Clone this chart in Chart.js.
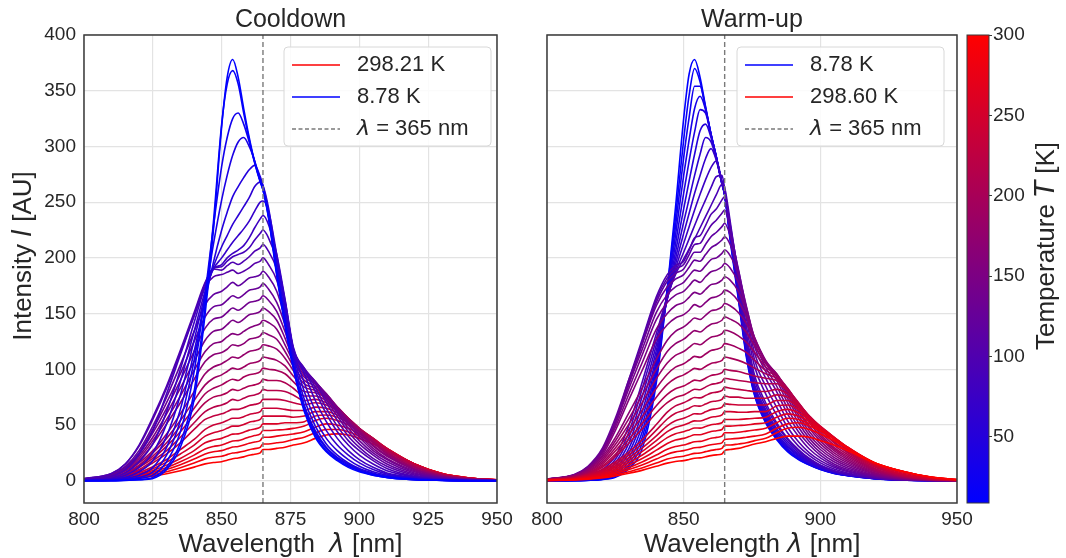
<!DOCTYPE html>
<html>
<head>
<meta charset="utf-8">
<title>Cooldown / Warm-up spectra</title>
<script src="https://cdn.jsdelivr.net/npm/chart.js@4.4.1/dist/chart.umd.min.js"></script>
<style>
  html, body { margin: 0; padding: 0; background: #fff; }
  #stage { position: relative; width: 1066px; height: 558px; overflow: hidden; }
  #stage canvas { position: absolute; top: 0; }
</style>
</head>
<body>
<div id="stage">
  <canvas id="cooldown" width="525" height="558" style="left:0"></canvas>
  <canvas id="warmup" width="455" height="558" style="left:525px"></canvas>
  <canvas id="colorbar" width="106" height="558" style="left:960px"></canvas>
</div>
<script>
// shared wavelength grid (nm) for every spectrum
const wavelengths = [800, 810, 815, 820, 825, 830, 835, 840, 844, 847, 850, 852, 854, 856, 858, 860, 862, 864, 865, 867, 870, 873, 876, 880, 884, 888, 892, 896, 900, 905, 910, 920, 930, 940, 950];
const laserLine = 865;
const yMin = -20, yMax = 400;
const yTicks = [0, 50, 100, 150, 200, 250, 300, 350, 400];
const xTicksCooldown = [800, 825, 850, 875, 900, 925, 950];
const xTicksWarmup = [800, 850, 900, 950];
const tempMin = 8.78, tempMax = 300;
const tempTicks = [50, 100, 150, 200, 250, 300];

// cooldown: coldest first
const cooldownTemps = [8.78, 18, 28, 38, 48, 58, 68, 78, 88, 98, 108, 118, 128, 138, 148, 158, 168, 178, 188, 198, 208, 218, 228, 238, 248, 258, 268, 278, 288, 298.21];
const cd00 = [0, 0, 0.3, 0.8, 2, 10, 30, 73, 150, 225, 318, 362, 378, 362, 334, 308, 286, 269, 261, 236, 184, 139, 101, 62, 39, 26, 18, 12, 8, 5, 3, 1, 0.3, 0, 0];
const cd01 = [0, 0, 0.4, 1, 3, 12, 34, 80, 158, 232, 320, 356, 368, 356, 330, 306, 285, 268, 261, 237, 186, 141, 102, 64, 41, 27, 19, 13, 9, 5, 3, 1, 0.3, 0, 0];
const cd02 = [0, 0.2, 0.6, 2, 5, 17, 44, 98, 168, 228, 282, 308, 325, 330, 320, 304, 286, 269, 262, 238, 188, 143, 104, 66, 43, 29, 20, 14, 9, 6, 3, 1, 0.4, 0, 0];
const cd03 = [0, 0.3, 1, 3, 8, 23, 54, 108, 166, 212, 252, 274, 292, 304, 308, 300, 287, 270, 263, 239, 190, 145, 106, 68, 45, 30, 21, 15, 10, 6, 4, 1.5, 0.5, 0, 0];
const cd04 = [0.2, 0.5, 2, 5, 12, 30, 64, 116, 162, 196, 225, 241, 255, 264, 272, 279, 283, 273, 265, 242, 193, 149, 110, 73, 49, 33, 23, 16, 11, 7, 4, 1.5, 0.5, 0, 0];
const cd05 = [0.3, 1, 3, 8, 18, 40, 77, 126, 167, 192, 210, 220, 230, 238, 246, 254, 264, 268, 265, 245, 198, 155, 114, 80, 55, 38, 27, 19, 13, 8, 5, 2, 0.6, 0.2, 0];
const cd06 = [0.5, 1.5, 5, 12, 25, 51, 89, 134, 170, 190, 200, 207, 214, 220, 226, 233, 242, 250, 251, 242, 203, 160, 118, 88, 63, 45, 32, 23, 16, 10, 6, 2.5, 0.8, 0.2, 0];
const cd07 = [0.8, 2.5, 7, 17, 33, 62, 100, 142, 174, 190, 194, 200, 204, 207, 211, 218, 227, 235, 238, 230, 203, 163, 120, 96, 72, 53, 38, 27, 19, 12, 7, 3, 1, 0.3, 0];
const cd08 = [1, 4, 10, 24, 45, 78, 113, 148, 177, 191, 192, 197, 201, 203, 205, 209, 216, 222, 225, 218, 198, 162, 118, 100, 80, 60, 44, 32, 23, 15, 9, 3.5, 1.2, 0.4, 0];
const cd09 = [1.9, 6.6, 15, 32, 57, 85, 117, 151, 178, 190, 189, 193, 196, 194, 197, 201, 206, 209, 212, 206, 190, 160, 119, 101, 84, 65, 49, 36, 27, 18, 11, 4, 1.5, 0.5, 0.1];
const cd10 = [1.8, 6.5, 15, 31, 55, 83, 115, 148, 174, 183, 185, 187, 189, 186, 188, 191, 195, 197, 200, 194, 180, 152, 117, 101, 88, 70, 54, 40, 30, 20, 13, 5, 1.8, 0.6, 0.1];
const cd11 = [1.7, 5.6, 12.8, 27, 49, 75, 104, 134, 158, 167, 170, 174, 178, 175, 178, 182, 183, 185, 188, 183, 170, 146, 116, 100, 89, 73, 58, 44, 33, 23, 15, 6, 2.2, 0.7, 0.2];
const cd12 = [1.6, 5.2, 11.9, 25, 46, 70, 96, 125, 147, 156, 158, 162, 166, 164, 167, 171, 172, 174, 177, 172, 160, 140, 114, 99, 89, 76, 61, 47, 36, 25, 17, 7, 2.5, 0.8, 0.2];
const cd13 = [1.5, 4.9, 11, 24, 43, 65, 90, 116, 137, 145, 147, 151, 155, 153, 156, 160, 161, 163, 166, 162, 152, 134, 112, 97, 89, 77, 63, 50, 39, 27, 19, 8, 3, 1, 0.3];
const cd14 = [1.4, 4.5, 10, 22, 39, 60, 83, 107, 126, 134, 136, 140, 144, 142, 145, 149, 150, 152, 155, 152, 144, 128, 110, 95, 88, 78, 65, 52, 41, 29, 20, 9, 3, 1, 0.3];
const cd15 = [1.3, 4.1, 9.4, 20, 36, 55, 76, 99, 116, 123, 125, 129, 132, 131, 134, 137, 139, 141, 144, 142, 136, 122, 107, 93, 87, 78, 66, 53, 43, 31, 22, 10, 3.5, 1.1, 0.3];
const cd16 = [1.2, 3.8, 8.6, 18, 33, 51, 70, 91, 107, 113, 115, 118, 122, 121, 123, 127, 128, 130, 133, 131, 127, 116, 103, 90, 85, 77, 66, 54, 44, 32, 23, 10, 4, 1.2, 0.3];
const cd17 = [1, 3.2, 7.4, 16, 27, 42, 60, 80, 96, 102, 105, 108, 111, 110, 113, 116, 117, 119, 122, 121, 118, 110, 99, 87, 83, 76, 66, 55, 45, 34, 24, 11, 4.2, 1.4, 0.4];
const cd18 = [1, 2.9, 6.7, 14, 25, 38, 54, 72, 86, 92, 95, 98, 101, 100, 102, 105, 106, 108, 111, 110, 108, 103, 94, 84, 81, 75, 66, 56, 46, 35, 25, 12, 4.5, 1.5, 0.4];
const cd19 = [0.9, 2.6, 6, 13, 22, 34, 49, 65, 78, 83, 86, 89, 91, 90, 93, 95, 96, 98, 101, 100, 99, 96, 89, 80, 79, 74, 66, 56, 47, 36, 26, 12, 4.8, 1.7, 0.5];
const cd20 = [0.8, 2.3, 5.4, 12, 20, 31, 44, 59, 70, 75, 77, 79, 82, 81, 83, 85, 86, 88, 91, 90, 90, 88, 83, 76, 76, 72, 65, 56, 47, 37, 27, 13, 5, 1.8, 0.5];
const cd21 = [0.7, 2, 4.8, 10, 18, 27, 39, 52, 62, 66, 68, 70, 73, 72, 74, 76, 77, 79, 82, 81, 81, 80, 77, 72, 73, 70, 64, 56, 47, 38, 28, 14, 5.5, 2, 0.6];
const cd22 = [0.6, 1.8, 4.2, 9, 16, 24, 34, 46, 55, 58, 60, 62, 64, 64, 65.5, 67.5, 68.5, 70, 73, 73, 73, 72, 70, 68, 70, 68, 63, 55, 47, 38, 28, 14, 6, 2, 0.6];
const cd23 = [0.8, 2.1, 4.2, 7.3, 12.5, 19, 28, 37, 46, 50, 52, 54, 56, 56, 57.5, 59.5, 60.5, 62, 65, 65, 65, 64, 63, 63, 66, 65, 61, 54, 46, 38, 29, 15, 6, 2.1, 0.7];
const cd24 = [0.7, 1.8, 3.6, 6.3, 10.8, 16.7, 24, 32, 40, 43, 45, 47, 49, 49, 50.5, 52.5, 53.5, 55, 58, 58, 58, 58, 57, 58, 62, 62, 59, 53, 46, 38, 29, 15, 6, 2.2, 0.7];
const cd25 = [0.6, 1.5, 3, 5.3, 9.1, 14, 20, 27, 34, 36.5, 38, 40, 41.8, 42, 43.5, 45.4, 46.5, 48, 51, 51, 51, 52, 52, 53, 58, 59, 57, 52, 45, 37, 29, 15, 6.3, 2.3, 0.7];
const cd26 = [0.5, 1.3, 2.6, 4.5, 7.7, 11.8, 17, 23, 28.5, 30.7, 32, 33.8, 35.6, 36, 37.5, 39.3, 40.5, 42, 45, 45, 45.5, 46, 47, 49, 54, 56, 54, 50, 44, 37, 29, 15, 6.5, 2.4, 0.7];
const cd27 = [0.4, 1.1, 2.2, 3.8, 6.5, 10, 14.3, 19.4, 24, 26, 27, 28.6, 30.2, 30.7, 32, 33.6, 34.7, 36, 39, 39, 40, 41, 42, 44, 48, 51, 50, 47, 42, 36, 28, 15, 6.5, 2.5, 0.8];
const cd28 = [0.3, 0.9, 1.8, 3.1, 5.3, 8.1, 11.7, 15.8, 19.6, 21.1, 22, 23.4, 24.8, 25.4, 26.4, 27.8, 28.8, 30, 33, 33, 34, 35, 37, 39, 43, 46, 46, 44, 40, 35, 28, 15, 6.5, 2.5, 0.8];
const cd29 = [0.3, 0.7, 1.4, 2.4, 4.1, 6.3, 9, 12.2, 15.1, 16.3, 17, 18.4, 19.7, 20.4, 21.4, 22.8, 23.8, 25, 28, 28, 29, 30, 32, 34, 38, 41, 42, 41, 38, 33, 27, 15, 6.5, 2.5, 0.8];
const cooldownCurves = [cd00, cd01, cd02, cd03, cd04, cd05, cd06, cd07, cd08, cd09, cd10, cd11, cd12, cd13, cd14,
  cd15, cd16, cd17, cd18, cd19, cd20, cd21, cd22, cd23, cd24, cd25, cd26, cd27, cd28, cd29];

// warm-up: coldest first
const warmupTemps = [8.78, 17.1, 25.3, 33.6, 41.9, 50.2, 58.5, 66.7, 75.0, 83.3, 91.6, 99.9, 108.1, 116.4, 124.7, 133.0, 141.3, 149.5, 157.8, 166.1, 174.4, 182.7, 190.9, 199.2, 207.5, 215.8, 224.1, 232.3, 240.6, 248.9, 257.2, 265.5, 273.7, 282.0, 290.3, 298.6];
const wu00 = [0, 0, 0.3, 1, 3, 11, 30, 88, 172, 245, 325, 365, 378, 362, 336, 311, 290, 266, 256, 216, 163, 110, 76, 52, 37, 26, 19, 14, 10, 6.5, 4.5, 1.8, 0.6, 0.2, 0];
const wu01 = [0, 0, 0.4, 1.2, 4, 13, 35, 92, 172, 236, 306, 346, 370, 358, 335, 311, 290, 267, 257, 218, 165, 112, 77, 53, 38, 27, 19.5, 14.3, 10.3, 6.7, 4.6, 1.8, 0.6, 0.2, 0];
const wu02 = [0, 0, 0.5, 1.5, 5, 15, 40, 96, 172, 228, 290, 326, 354, 354, 334, 311, 290, 267, 257, 219, 166, 113, 78, 54, 38.5, 27.5, 20, 14.6, 10.5, 6.8, 4.7, 1.9, 0.6, 0.2, 0];
const wu03 = [0, 0.3, 0.7, 2, 6, 18, 45, 100, 170, 220, 274, 306, 334, 345, 333, 311, 290, 267, 257, 220, 167, 114, 79, 55, 39, 28, 20.5, 15, 10.8, 7, 4.8, 1.9, 0.6, 0.2, 0];
const wu04 = [0, 0.4, 1, 2.6, 7.5, 21, 51, 104, 168, 212, 258, 287, 313, 333, 330, 310, 290, 267, 257, 221, 168, 115, 80, 56, 40, 28.5, 21, 15.3, 11, 7.2, 4.9, 2, 0.7, 0.2, 0];
const wu05 = [0.2, 0.5, 1.4, 3.3, 9, 25, 57, 108, 166, 205, 244, 269, 293, 314, 320, 308, 289, 267, 257, 222, 169, 116, 81, 58, 41, 30, 22, 16, 11.5, 7.5, 5, 2, 0.7, 0.2, 0];
const wu06 = [0.3, 0.7, 1.8, 4.2, 11, 29, 63, 112, 164, 199, 232, 253, 274, 293, 308, 304, 288, 267, 257, 223, 170, 118, 82, 60, 43, 31, 23, 16.8, 12, 7.8, 5.2, 2.1, 0.7, 0.2, 0];
const wu07 = [0.4, 0.9, 2.3, 5.3, 13.5, 34, 70, 117, 163, 194, 222, 240, 258, 274, 289, 298, 287, 267, 257, 224, 172, 120, 84, 62, 45, 33, 24, 17.5, 12.5, 8.2, 5.4, 2.2, 0.7, 0.2, 0];
const wu08 = [0.5, 1.2, 2.9, 6.6, 16, 39, 77, 122, 163, 190, 213, 228, 243, 257, 270, 281, 287, 268, 258, 226, 175, 123, 86, 64, 47, 35, 25.5, 18.5, 13, 8.6, 5.7, 2.3, 0.8, 0.2, 0];
const wu09 = [0.6, 1.5, 3.6, 8, 19, 44, 84, 127, 164, 187, 205, 217, 229, 241, 252, 263, 273, 274, 262, 229, 178, 127, 90, 67, 50, 37, 27, 19.5, 13.8, 9, 6, 2.4, 0.8, 0.2, 0];
const wu10 = [0.7, 1.8, 4.3, 9.6, 22, 50, 90, 132, 165, 185, 199, 208, 217, 227, 237, 247, 257, 266, 263, 233, 183, 132, 94, 70, 52, 38, 28, 20, 14, 9, 6, 2.5, 0.8, 0.3, 0];
const wu11 = [1.2, 4.9, 11.8, 25.6, 53, 91, 128, 165, 185, 193, 197, 207, 218, 220, 229, 239, 244, 252, 255, 230, 185, 138, 102, 78, 59, 43, 31, 22.5, 16, 10.5, 7, 2.8, 0.9, 0.3, 0];
const wu12 = [1.2, 4.9, 11.6, 25, 52, 89, 126, 163, 182, 190, 194, 203, 212, 213, 221, 229, 234, 240, 243, 226, 188, 145, 108, 85, 66, 48, 35, 25, 18, 12, 8, 3, 1, 0.3, 0];
const wu13 = [1.1, 4.8, 11.4, 24.7, 51, 87, 124, 160, 179, 186, 190, 198, 205, 205, 212, 219, 223, 228, 231, 220, 190, 150, 114, 92, 73, 54, 40, 28.5, 20.5, 13.5, 9, 3.5, 1.2, 0.4, 0.1];
const wu14 = [1.5, 5.6, 13, 28, 56, 91, 124, 157, 174, 181, 185, 191.5, 198, 197, 203, 209, 212, 216, 219, 212, 189, 154, 120, 98, 80, 60, 44, 32, 23, 15, 10, 4, 1.3, 0.4, 0.1];
const wu15 = [1.4, 5.3, 12.5, 26.7, 53, 87, 119, 151, 167, 174, 178, 184, 189, 188, 193, 198.5, 200, 204, 207, 202, 185, 156, 124, 102, 85, 65, 48, 35, 25.5, 17, 11.5, 4.5, 1.5, 0.5, 0.1];
const wu16 = [1.4, 5.1, 11.9, 25.5, 51, 83, 114, 144.5, 160, 166.6, 170, 175, 180, 178, 183, 187.5, 189, 192, 195, 191, 178, 155, 127, 106, 90, 70, 52, 38, 28, 19, 13, 5, 1.7, 0.5, 0.1];
const wu17 = [1.3, 4.8, 11.2, 24, 48, 78, 107, 136, 150, 157, 160, 164.6, 169, 167.4, 171.6, 176, 177, 180, 183, 180, 170, 152, 128, 107, 93, 74, 56, 41, 30.5, 21, 14.5, 5.8, 2, 0.6, 0.2];
const wu18 = [1.2, 4.5, 10.4, 22, 45, 73, 100, 127, 140, 146, 149, 153, 158, 156, 160, 164, 165, 168, 171, 169, 161, 147, 128, 108, 95, 77, 59, 44, 33, 23, 16, 6.5, 2.2, 0.7, 0.2];
const wu19 = [1.4, 4.8, 10.4, 20.7, 38.6, 61, 84, 109, 126, 134, 138, 142, 146, 144.7, 148.4, 152.4, 153.5, 156, 159, 157, 151, 141, 126, 107, 96, 79, 62, 47, 35.5, 25, 17.5, 7.2, 2.5, 0.8, 0.2];
const wu20 = [1.3, 4.4, 9.5, 19, 35.6, 56, 77.5, 100, 116, 123, 127, 131, 134.7, 133.4, 137, 140.5, 141.6, 144, 147, 145, 141, 133, 121, 105, 96, 81, 64, 49, 38, 27, 19, 8, 2.8, 0.9, 0.2];
const wu21 = [1.2, 4.1, 8.7, 17.4, 32.5, 51, 70.8, 91.6, 105.6, 112.5, 116, 119.6, 123.2, 122, 125.3, 128.7, 129.8, 132, 135, 134, 130, 124, 115, 102, 95, 82, 66, 52, 40, 28.5, 20.5, 8.8, 3.2, 1, 0.3];
const wu22 = [1.05, 3.7, 7.9, 15.8, 29.4, 46.2, 64, 83, 95.5, 102, 105, 108.3, 111.6, 110.7, 113.7, 116.8, 117.9, 120, 123, 122, 119, 115, 108, 99, 94, 83, 68, 54, 42, 30, 22, 9.5, 3.5, 1.1, 0.3];
const wu23 = [0.95, 3.3, 7.1, 14.3, 26.6, 41.8, 58, 75, 86.5, 92, 95, 97.9, 100.8, 99.9, 102.5, 105.3, 106.2, 108, 111, 110, 108, 105, 101, 96, 92, 83, 69, 56, 44, 32, 23.5, 10.2, 3.8, 1.2, 0.3];
const wu24 = [0.85, 3, 6.4, 12.8, 23.8, 37.4, 51.9, 67.2, 77.4, 82.5, 85, 87.7, 90.3, 89.6, 92, 94.5, 95.3, 97, 100, 99, 98, 96, 94, 92, 90, 82, 70, 57, 46, 34, 25, 11, 4, 1.3, 0.3];
const wu25 = [0.77, 2.7, 5.8, 11.6, 21.6, 33.9, 47, 60.8, 70, 74.7, 77, 79.6, 82.1, 81.6, 84, 86.4, 87.3, 89, 92, 91, 90, 89, 88, 87, 87, 81, 70, 57.5, 47, 35, 26, 12, 4.5, 1.5, 0.4];
const wu26 = [0.84, 2.8, 5.6, 9.8, 16.8, 25.9, 37.1, 50.4, 61.6, 67.2, 70, 72.4, 74.7, 74.3, 76.4, 78.6, 79.5, 81, 84, 83, 82, 81, 80, 80, 82, 78, 69, 58, 48, 37, 27, 13, 5, 1.6, 0.4];
const wu27 = [0.76, 2.5, 5, 8.8, 15.1, 23.3, 33.4, 45.4, 55.4, 60.5, 63, 65.1, 67.3, 66.9, 68.8, 70.8, 71.6, 73, 76, 75, 75, 74, 74, 74, 77, 75, 68, 58, 48.5, 38, 28, 13.5, 5.5, 1.8, 0.5];
const wu28 = [0.67, 2.2, 4.5, 7.8, 13.4, 20.7, 29.7, 40.3, 49.3, 53.8, 56, 58.1, 60.1, 59.9, 61.8, 63.8, 64.6, 66, 69, 68.5, 68, 68, 68, 68, 72, 72, 66, 57, 49, 39, 29, 14, 6, 2, 0.5];
const wu29 = [0.6, 2, 4, 7, 12, 18.5, 26.5, 36, 44, 48, 50, 51.9, 53.7, 53.6, 55.2, 57, 57.7, 59, 62, 62, 61.5, 61.5, 62, 62, 67, 68, 64, 56, 48.5, 39, 29.5, 14.5, 7, 2.5, 0.6];
const wu30 = [0.53, 1.8, 3.5, 6.2, 10.6, 16.3, 23.3, 31.7, 38.7, 42.2, 44, 45.6, 47.3, 47.2, 48.6, 50.2, 50.9, 52, 55, 55, 55, 55.5, 56, 57, 62, 64, 61, 55, 48, 39, 30, 15, 8, 3, 0.7];
const wu31 = [0.46, 1.5, 3, 5.3, 9.1, 14.1, 20.1, 27.4, 33.4, 36.5, 38, 39.6, 41.2, 41.2, 42.6, 44.2, 44.9, 46, 49, 49, 49.5, 50, 51, 52, 57, 60, 58, 53, 47, 38.5, 30, 15.5, 8.2, 3.2, 0.8];
const wu32 = [0.38, 1.3, 2.6, 4.5, 7.7, 11.8, 17, 23, 28.2, 30.7, 32, 33.5, 35, 35.3, 36.6, 38.1, 38.9, 40, 43, 43, 43.5, 44.5, 45.5, 47, 52, 56, 55, 51, 46, 38, 30, 16, 8.5, 3.3, 0.9];
const wu33 = [0.32, 1.1, 2.2, 3.8, 6.5, 10, 14.3, 19.4, 23.8, 25.9, 27, 28.3, 29.6, 29.9, 31.1, 32.3, 33, 34, 37, 37.5, 38, 39, 40, 42, 47, 51, 52, 49, 44.5, 37.5, 29.5, 16, 8.5, 3.4, 1];
const wu34 = [0.26, 0.9, 1.8, 3.1, 5.3, 8.1, 11.7, 15.8, 19.4, 21.1, 22, 23.3, 24.5, 24.9, 26.1, 27.2, 28, 29, 32, 32, 33, 34, 36, 38, 43, 47, 48, 46, 42, 36, 29, 16, 8.5, 3.5, 1];
const wu35 = [0.22, 0.7, 1.4, 2.5, 4.3, 6.7, 9.5, 13, 15.8, 17.3, 18, 19.1, 20.2, 20.5, 21.5, 22.5, 23.2, 24, 27, 28, 29, 31, 33, 35, 38, 40, 40, 39, 36, 32, 27, 16, 8.5, 3.5, 1];
const warmupCurves = [wu00, wu01, wu02, wu03, wu04, wu05, wu06, wu07, wu08, wu09, wu10, wu11, wu12, wu13, wu14, wu15, wu16, wu17,
  wu18, wu19, wu20, wu21, wu22, wu23, wu24, wu25, wu26, wu27, wu28, wu29, wu30, wu31, wu32, wu33, wu34, wu35];

const FONT = '"Liberation Sans", Arial, sans-serif';
const MATH = '"DejaVu Sans", sans-serif';
const ink = '#262626';
const gridColor = '#e3e3e3';
const frameColor = '#3a3a3a';
const laserColor = '#7a7a7a';
const tickFont = { family: FONT, size: 19 };

function tempColor(T) {
  const f = Math.min(1, Math.max(0, (T - tempMin) / (tempMax - tempMin)));
  return `rgb(${Math.round(255 * f)}, 0, ${Math.round(255 * (1 - f))})`;
}

// text with italic math pieces, centred (or left aligned) on x,y
function richText(ctx, parts, x, y, size, angle, align) {
  ctx.save();
  ctx.translate(x, y);
  if (angle) ctx.rotate(angle);
  ctx.textBaseline = 'middle';
  ctx.textAlign = 'left';
  ctx.fillStyle = ink;
  const fonts = parts.map(p => p.math ? `italic ${size}px ${MATH}` : `${size}px ${FONT}`);
  const widths = parts.map((p, i) => { ctx.font = fonts[i]; return ctx.measureText(p.t).width; });
  let cx = align === 'left' ? 0 : -widths.reduce((s, w) => s + w, 0) / 2;
  parts.forEach((p, i) => { ctx.font = fonts[i]; ctx.fillText(p.t, cx, 0); cx += widths[i]; });
  ctx.restore();
}

function drawLegend(ctx, box, entries) {
  ctx.save();
  ctx.beginPath();
  ctx.roundRect(box.x, box.y, box.w, box.h, 4);
  ctx.fillStyle = 'rgba(255,255,255,0.85)';
  ctx.fill();
  ctx.strokeStyle = '#d8d8d8';
  ctx.lineWidth = 1;
  ctx.stroke();
  entries.forEach((e, i) => {
    const y = box.y + 18 + i * 32;
    ctx.beginPath();
    ctx.setLineDash(e.dash || []);
    ctx.strokeStyle = e.color;
    ctx.lineWidth = e.width || 1.6;
    ctx.moveTo(box.x + 8, y);
    ctx.lineTo(box.x + 56, y);
    ctx.stroke();
    ctx.setLineDash([]);
    richText(ctx, e.label, box.x + 73, y, 22, 0, 'left');
  });
  ctx.restore();
}

function panelDecor(cfg) {
  return {
    id: 'panelDecor',
    afterDatasetsDraw(chart) {
      const { ctx, chartArea: a } = chart;
      ctx.save();
      ctx.strokeStyle = frameColor;
      ctx.lineWidth = 1.5;
      ctx.strokeRect(a.left, a.top, a.right - a.left, a.bottom - a.top);
      ctx.restore();
      drawLegend(ctx, { x: a.left + cfg.legendX, y: a.top + 12, w: 207, h: 99 }, cfg.legend);
      const mid = (a.left + a.right) / 2;
      richText(ctx, [{ t: cfg.title }], mid, 20, 25);
      richText(ctx, cfg.xLabel, mid, 545, 26);
      if (cfg.yLabel) richText(ctx, cfg.yLabel, 24, 256, 26, -Math.PI / 2);
    }
  };
}

function spectrumSets(curves, temps) {
  return curves.map((vals, k) => ({
    label: `${temps[k]} K`,
    data: wavelengths.map((x, i) => ({ x, y: vals[i] })),
    borderColor: tempColor(temps[k]),
    borderWidth: 1.6,
    pointRadius: 0,
    cubicInterpolationMode: 'monotone',
    fill: false
  }));
}

function laserSet() {
  return {
    label: 'laser',
    data: [{ x: laserLine, y: yMin }, { x: laserLine, y: yMax }],
    borderColor: laserColor,
    borderWidth: 1.4,
    borderDash: [5, 3],
    pointRadius: 0,
    tension: 0,
    fill: false
  };
}

function panelChart(id, curves, temps, xTicks, cfg) {
  const sets = spectrumSets(curves, temps);
  if (cfg.hotOnTop) sets.reverse();
  sets.unshift(laserSet());
  return new Chart(document.getElementById(id), {
    type: 'line',
    data: { datasets: sets },
    options: {
      responsive: false,
      animation: false,
      events: [],
      layout: { padding: { top: 35, right: cfg.padRight, left: 0, bottom: 0 } },
      scales: {
        x: {
          type: 'linear', min: 800, max: 950,
          afterBuildTicks: ax => { ax.ticks = xTicks.map(v => ({ value: v })); },
          afterFit: s => { s.height = 55; },
          grid: { color: gridColor, lineWidth: 1.2, drawTicks: false },
          border: { display: false },
          ticks: { color: ink, font: tickFont, padding: 5, maxRotation: 0, autoSkip: false }
        },
        y: {
          type: 'linear', min: yMin, max: yMax,
          afterBuildTicks: ax => { ax.ticks = yTicks.map(v => ({ value: v })); },
          afterFit: s => { s.width = cfg.yWidth; },
          grid: { color: gridColor, lineWidth: 1.2, drawTicks: false },
          border: { display: false },
          ticks: { display: cfg.showY, color: ink, font: tickFont, padding: 8, autoSkip: false }
        }
      },
      plugins: { legend: { display: false }, tooltip: { enabled: false } }
    },
    plugins: [panelDecor(cfg)]
  });
}

const lambdaLabel = [{ t: 'λ', math: true }, { t: ' = 365 nm' }];
const coolHot = cooldownTemps[cooldownTemps.length - 1];
const warmHot = warmupTemps[warmupTemps.length - 1];

panelChart('cooldown', cooldownCurves, cooldownTemps, xTicksCooldown, {
  title: 'Cooldown', padRight: 28, yWidth: 84, showY: true, hotOnTop: false, legendX: 200,
  xLabel: [{ t: 'Wavelength  ' }, { t: 'λ', math: true }, { t: ' [nm]' }],
  yLabel: [{ t: 'Intensity ' }, { t: 'I', math: true }, { t: ' [AU]' }],
  legend: [
    { color: tempColor(coolHot), label: [{ t: `${coolHot.toFixed(2)} K` }] },
    { color: tempColor(cooldownTemps[0]), label: [{ t: `${cooldownTemps[0].toFixed(2)} K` }] },
    { color: laserColor, dash: [4, 2.5], width: 1.3, label: lambdaLabel }
  ]
});

panelChart('warmup', warmupCurves, warmupTemps, xTicksWarmup, {
  title: 'Warm-up', padRight: 23, yWidth: 22, showY: false, hotOnTop: true, legendX: 190,
  xLabel: [{ t: 'Wavelength ' }, { t: 'λ', math: true }, { t: ' [nm]' }],
  yLabel: null,
  legend: [
    { color: tempColor(warmupTemps[0]), label: [{ t: `${warmupTemps[0].toFixed(2)} K` }] },
    { color: tempColor(warmHot), label: [{ t: `${warmHot.toFixed(2)} K` }] },
    { color: laserColor, dash: [4, 2.5], width: 1.3, label: lambdaLabel }
  ]
});

// colour bar: one floating bar spanning the temperature range
const colorbarDecor = {
  id: 'colorbarDecor',
  afterDatasetsDraw(chart) {
    const { ctx, chartArea: a } = chart;
    ctx.save();
    ctx.strokeStyle = frameColor;
    ctx.lineWidth = 1;
    ctx.strokeRect(a.left, a.top, a.right - a.left, a.bottom - a.top);
    ctx.restore();
    richText(ctx, [{ t: 'Temperature ' }, { t: 'T', math: true }, { t: ' [K]' }], 87, 246, 26, -Math.PI / 2);
  }
};

new Chart(document.getElementById('colorbar'), {
  type: 'bar',
  data: {
    labels: ['T'],
    datasets: [{
      data: [[tempMin, tempMax]],
      backgroundColor: c => {
        const { ctx, chartArea } = c.chart;
        if (!chartArea) return tempColor(150);
        const g = ctx.createLinearGradient(0, chartArea.bottom, 0, chartArea.top);
        g.addColorStop(0, tempColor(tempMin));
        g.addColorStop(1, tempColor(tempMax));
        return g;
      },
      borderWidth: 0,
      barPercentage: 1,
      categoryPercentage: 1
    }]
  },
  options: {
    responsive: false,
    animation: false,
    events: [],
    layout: { padding: { top: 35, bottom: 55, left: 7, right: 0 } },
    scales: {
      x: { display: false },
      y: {
        position: 'right', min: tempMin, max: tempMax,
        afterBuildTicks: ax => { ax.ticks = tempTicks.map(v => ({ value: v })); },
        afterFit: s => { s.width = 77; },
        grid: { drawOnChartArea: false, drawTicks: true, tickLength: 3, color: frameColor, lineWidth: 1 },
        border: { display: false },
        ticks: { color: ink, font: tickFont, padding: 1, autoSkip: false }
      }
    },
    plugins: { legend: { display: false }, tooltip: { enabled: false } }
  },
  plugins: [colorbarDecor]
});
</script>
</body>
</html>
